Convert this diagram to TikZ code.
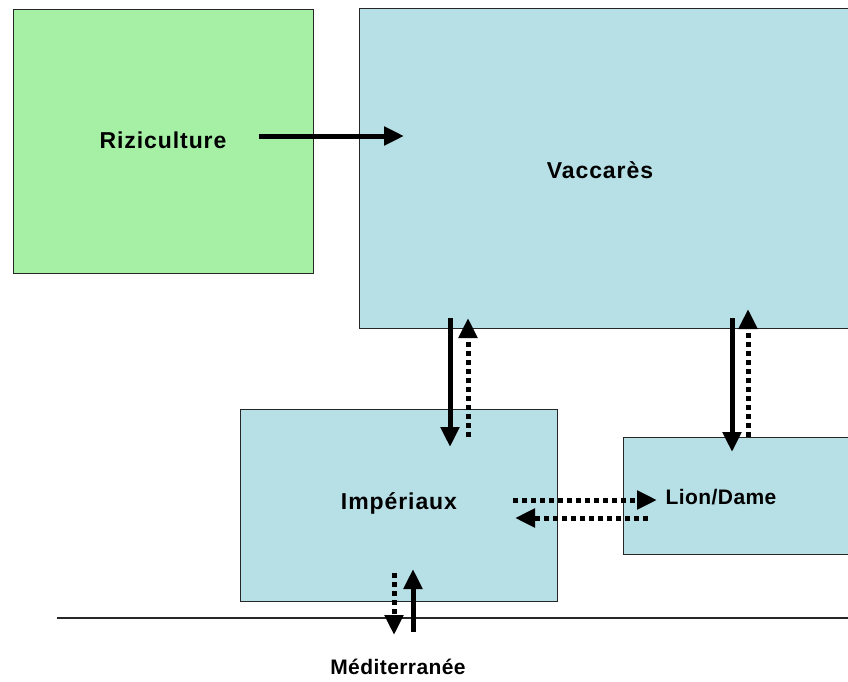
\documentclass[tikz,border=0pt]{standalone}
\usepackage{fontspec}
\setmainfont{Liberation Sans}
\newfontfamily\widefont[LetterSpace=4]{Liberation Sans}
\newfontfamily\midfont[LetterSpace=2]{Liberation Sans}
\usetikzlibrary{arrows.meta}
\definecolor{rizgreen}{RGB}{166,240,166}
\definecolor{lagblue}{RGB}{183,223,230}
\tikzset{
  box/.style={draw=black!85, line width=1.2pt, inner sep=0pt, anchor=north west},
  lbl/.style={font=\widefont\bfseries\fontsize{23}{26}\selectfont, inner sep=0pt},
  lblsmall/.style={font=\midfont\bfseries\fontsize{21}{24}\selectfont, inner sep=0pt},
  solidarrow/.style={line width=5pt, -{Triangle[length=20pt,width=18pt]}},
  dotarrow/.style={line width=5pt, dash pattern=on 5pt off 4pt, -{Triangle[length=20pt,width=18pt]}},
}
\begin{document}
\begin{tikzpicture}[x=1pt,y=-1pt]
\useasboundingbox (0,0) rectangle (848,682);
\clip (0,0) rectangle (848,682);
\fill[white] (0,0) rectangle (848,682);
% boxes
\node[box, fill=rizgreen, minimum width=300pt, minimum height=264pt] (riz) at (13,9) {};
\node[box, fill=lagblue, minimum width=520pt, minimum height=320pt] (vac) at (359,8) {};
\node[box, fill=lagblue, minimum width=317pt, minimum height=192pt] (imp) at (240,409) {};
\node[box, fill=lagblue, minimum width=260pt, minimum height=117pt] (lion) at (623,437) {};
% labels
\node[lbl] (rizt) at (163,140) {Riziculture};
\node[lbl] (vact) at (600,170) {Vaccarès};
\node[lbl] (impt) at (399,503) {Impériaux};
\node[lblsmall] (liont) at (721,497) {Lion/Dame};
\node[lblsmall] (medt) at (398,667) {Méditerranée};
% sea line
\coordinate (seaL) at (57,618);
\coordinate (seaR) at (860,618);
\draw[line width=1.2pt, black!85] (seaL) -- (seaR);
% arrow end points
\coordinate (a1s) at (259,136); \coordinate (a1e) at (404,136);
\coordinate (a2s) at (450,318); \coordinate (a2e) at (450,447);
\coordinate (a3s) at (468,437); \coordinate (a3e) at (468,318);
\coordinate (a4s) at (732,318); \coordinate (a4e) at (732,452);
\coordinate (a5s) at (748,437); \coordinate (a5e) at (748,309);
\coordinate (a6s) at (513,500); \coordinate (a6e) at (657,500);
\coordinate (a7s) at (648,518); \coordinate (a7e) at (515,518);
\coordinate (a8s) at (394,573); \coordinate (a8e) at (394,635);
\coordinate (a9s) at (413,632); \coordinate (a9e) at (413,569);
% arrows
\draw[solidarrow] (a1s) -- (a1e);
\draw[solidarrow] (a2s) -- (a2e);
\draw[dotarrow] (a3s) -- (a3e);
\draw[solidarrow] (a4s) -- (a4e);
\draw[dotarrow] (a5s) -- (a5e);
\draw[dotarrow] (a6s) -- (a6e);
\draw[dotarrow] (a7s) -- (a7e);
\draw[dotarrow] (a8s) -- (a8e);
\draw[solidarrow] (a9s) -- (a9e);
\end{tikzpicture}
\end{document}
